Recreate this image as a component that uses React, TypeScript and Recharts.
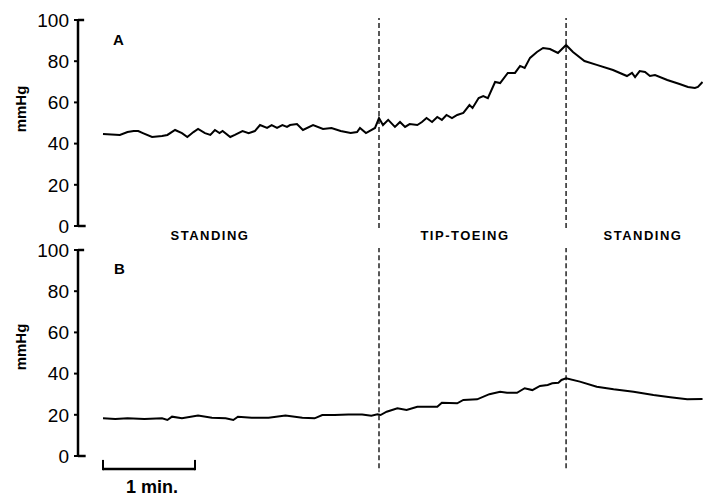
import React from 'react';
import { LineChart, Line, XAxis, YAxis, ReferenceLine } from 'recharts';

// time in seconds from start of trace, pressure in mmHg
const timeA = [0, 11, 16, 20, 23, 26, 32, 38.5, 42, 47, 51.5, 55, 59, 62, 66.5, 70, 73, 76, 78, 83, 86, 91, 95, 99, 102.4, 107, 110, 113.5, 117, 120, 122, 126.5, 130.4, 137, 143.5, 149, 155, 161.5, 165.7, 167.6, 171.5, 177.4, 180, 182.6, 186, 190.4, 193.7, 197, 200, 205, 208, 211, 214.6, 218, 221, 224, 227.6, 231, 235, 239, 241, 245, 248, 251, 255.7, 259, 264, 268.7, 272, 275, 278.5, 283, 287, 291.5, 296.7, 302, 306.5, 314, 322, 332.6, 341.7, 345, 347, 350, 353.5, 356.7, 360, 368, 376, 381.5, 386, 388, 391];
const pressureA = [44.7, 44.2, 45.6, 46.1, 46.1, 45.1, 43.2, 43.7, 44.2, 46.6, 45.1, 43.2, 45.6, 47.1, 45.1, 44.2, 46.6, 45.1, 46.1, 43.2, 44.2, 46.1, 45.1, 46.1, 49.0, 47.6, 49.0, 47.6, 49.0, 48.1, 49.0, 49.5, 46.6, 49.0, 47.1, 47.6, 46.1, 45.1, 45.6, 47.6, 45.1, 47.6, 52.4, 49.0, 51.5, 48.1, 50.5, 48.1, 49.5, 49.0, 50.5, 52.4, 50.5, 52.9, 51.5, 53.9, 52.4, 53.9, 54.9, 58.7, 57.3, 62.1, 63.1, 62.1, 69.9, 69.4, 74.3, 74.3, 77.7, 76.7, 81.6, 84.5, 86.4, 85.9, 84.0, 87.9, 84.5, 80.1, 78.2, 75.7, 72.8, 74.3, 72.3, 75.2, 74.8, 72.8, 73.3, 70.9, 68.9, 67.5, 67.0, 67.5, 69.9];

const timeB = [0, 8, 16, 27, 38.5, 42, 45, 51.5, 62, 71, 80, 85, 88, 97, 108, 119, 130, 138, 143, 151, 160, 169, 175, 179, 181, 185, 192, 198, 205, 218, 221, 231, 235, 244, 252, 259, 263.5, 270, 275, 280, 285, 290, 293, 297, 299, 302, 311, 322, 333, 346, 359, 370, 381, 391];
const pressureB = [18.3, 18.0, 18.3, 18.0, 18.3, 17.5, 19.1, 18.3, 19.6, 18.6, 18.3, 17.5, 19.1, 18.6, 18.6, 19.6, 18.6, 18.3, 19.9, 19.9, 20.2, 20.2, 19.6, 20.2, 19.9, 21.5, 23.2, 22.3, 23.9, 23.9, 25.9, 25.6, 27.2, 27.5, 30.0, 31.2, 30.7, 30.7, 32.9, 32.0, 34.0, 34.5, 35.3, 35.6, 36.9, 37.7, 36.1, 33.6, 32.4, 31.2, 29.6, 28.5, 27.5, 27.7];

const phaseChanges = [180, 302];
const phaseLabels = ['STANDING', 'TIP-TOEING', 'STANDING'];
const yTicks = [0, 20, 40, 60, 80, 100];
const scaleBarSeconds = 60;

const dataA = timeA.map((t, i) => ({ t, p: pressureA[i] }));
const dataB = timeB.map((t, i) => ({ t, p: pressureB[i] }));

const font = '"Liberation Sans", Arial, Helvetica, sans-serif';
const xDomain: [number, number] = [-16.3, 391.3];

const Panel = ({ data, bottomExtent, showScale }: { data: { t: number; p: number }[]; bottomExtent: number; showScale?: boolean }) => (
  <LineChart
    width={703}
    height={showScale ? 258 : 240}
    data={data}
    margin={{ top: showScale ? 10 : 20, right: 0, bottom: showScale ? 42 : 14, left: 0 }}
  >
    <XAxis type="number" dataKey="t" domain={xDomain} allowDataOverflow hide />
    <YAxis
      width={78}
      domain={[0, 100]}
      ticks={yTicks}
      interval={0}
      tickSize={4}
      tickMargin={5}
      axisLine={{ stroke: '#000', strokeWidth: 2.5 }}
      tickLine={{ stroke: '#000', strokeWidth: 2 }}
      tick={{ fill: '#000', fontSize: 19, fontFamily: font }}
    />
    <ReferenceLine segment={[{ x: -16.3, y: 100 }, { x: -12.3, y: 100 }]} stroke="#000" strokeWidth={2.5} ifOverflow="visible" />
    <ReferenceLine segment={[{ x: -16.3, y: 0 }, { x: -11.3, y: 0 }]} stroke="#000" strokeWidth={2.5} ifOverflow="visible" />
    {phaseChanges.map((x) => (
      <ReferenceLine
        key={x}
        segment={[{ x, y: bottomExtent }, { x, y: 101 }]}
        stroke="#000"
        strokeWidth={1.3}
        strokeDasharray="5 3"
        ifOverflow="visible"
      />
    ))}
    {showScale && (
      <ReferenceLine segment={[{ x: 0, y: -6.3 }, { x: scaleBarSeconds, y: -6.3 }]} stroke="#000" strokeWidth={2.5} ifOverflow="visible" />
    )}
    {showScale && (
      <ReferenceLine segment={[{ x: 0, y: -6.9 }, { x: 0, y: -1.9 }]} stroke="#000" strokeWidth={2} ifOverflow="visible" />
    )}
    {showScale && (
      <ReferenceLine segment={[{ x: scaleBarSeconds, y: -6.9 }, { x: scaleBarSeconds, y: -1.9 }]} stroke="#000" strokeWidth={2} ifOverflow="visible" />
    )}
    <Line type="linear" dataKey="p" stroke="#000" strokeWidth={2} dot={false} isAnimationActive={false} />
  </LineChart>
);

const textStyle: React.CSSProperties = {
  position: 'absolute',
  fontFamily: font,
  fontWeight: 700,
  color: '#000',
  whiteSpace: 'nowrap',
  lineHeight: 1,
};

const phaseCenters = [210, 465, 643];

export default function App() {
  return (
    <div style={{ position: 'absolute', left: 0, top: 0, width: 703, height: 498, background: '#fff', overflow: 'hidden' }}>
      <div style={{ position: 'absolute', left: 0, top: 0 }}>
        <Panel data={dataA} bottomExtent={-1} />
      </div>
      <div style={{ position: 'absolute', left: 0, top: 240 }}>
        <Panel data={dataB} bottomExtent={-6} showScale />
      </div>

      <div style={{ ...textStyle, left: 20, top: 109, fontSize: 15, transform: 'translate(-50%, -50%) rotate(-90deg)' }}>mmHg</div>
      <div style={{ ...textStyle, left: 20, top: 347, fontSize: 15, transform: 'translate(-50%, -50%) rotate(-90deg)' }}>mmHg</div>

      <div style={{ ...textStyle, left: 113, top: 32, fontSize: 15 }}>A</div>
      <div style={{ ...textStyle, left: 114, top: 261, fontSize: 15 }}>B</div>

      {phaseLabels.map((label, i) => (
        <div
          key={i}
          style={{ ...textStyle, left: phaseCenters[i], top: 235, fontSize: 13, letterSpacing: 1.5, transform: 'translate(-50%, -50%)' }}
        >
          {label}
        </div>
      ))}

      <div style={{ ...textStyle, left: 152, top: 487, fontSize: 18, transform: 'translate(-50%, -50%)' }}>1 min.</div>
    </div>
  );
}
